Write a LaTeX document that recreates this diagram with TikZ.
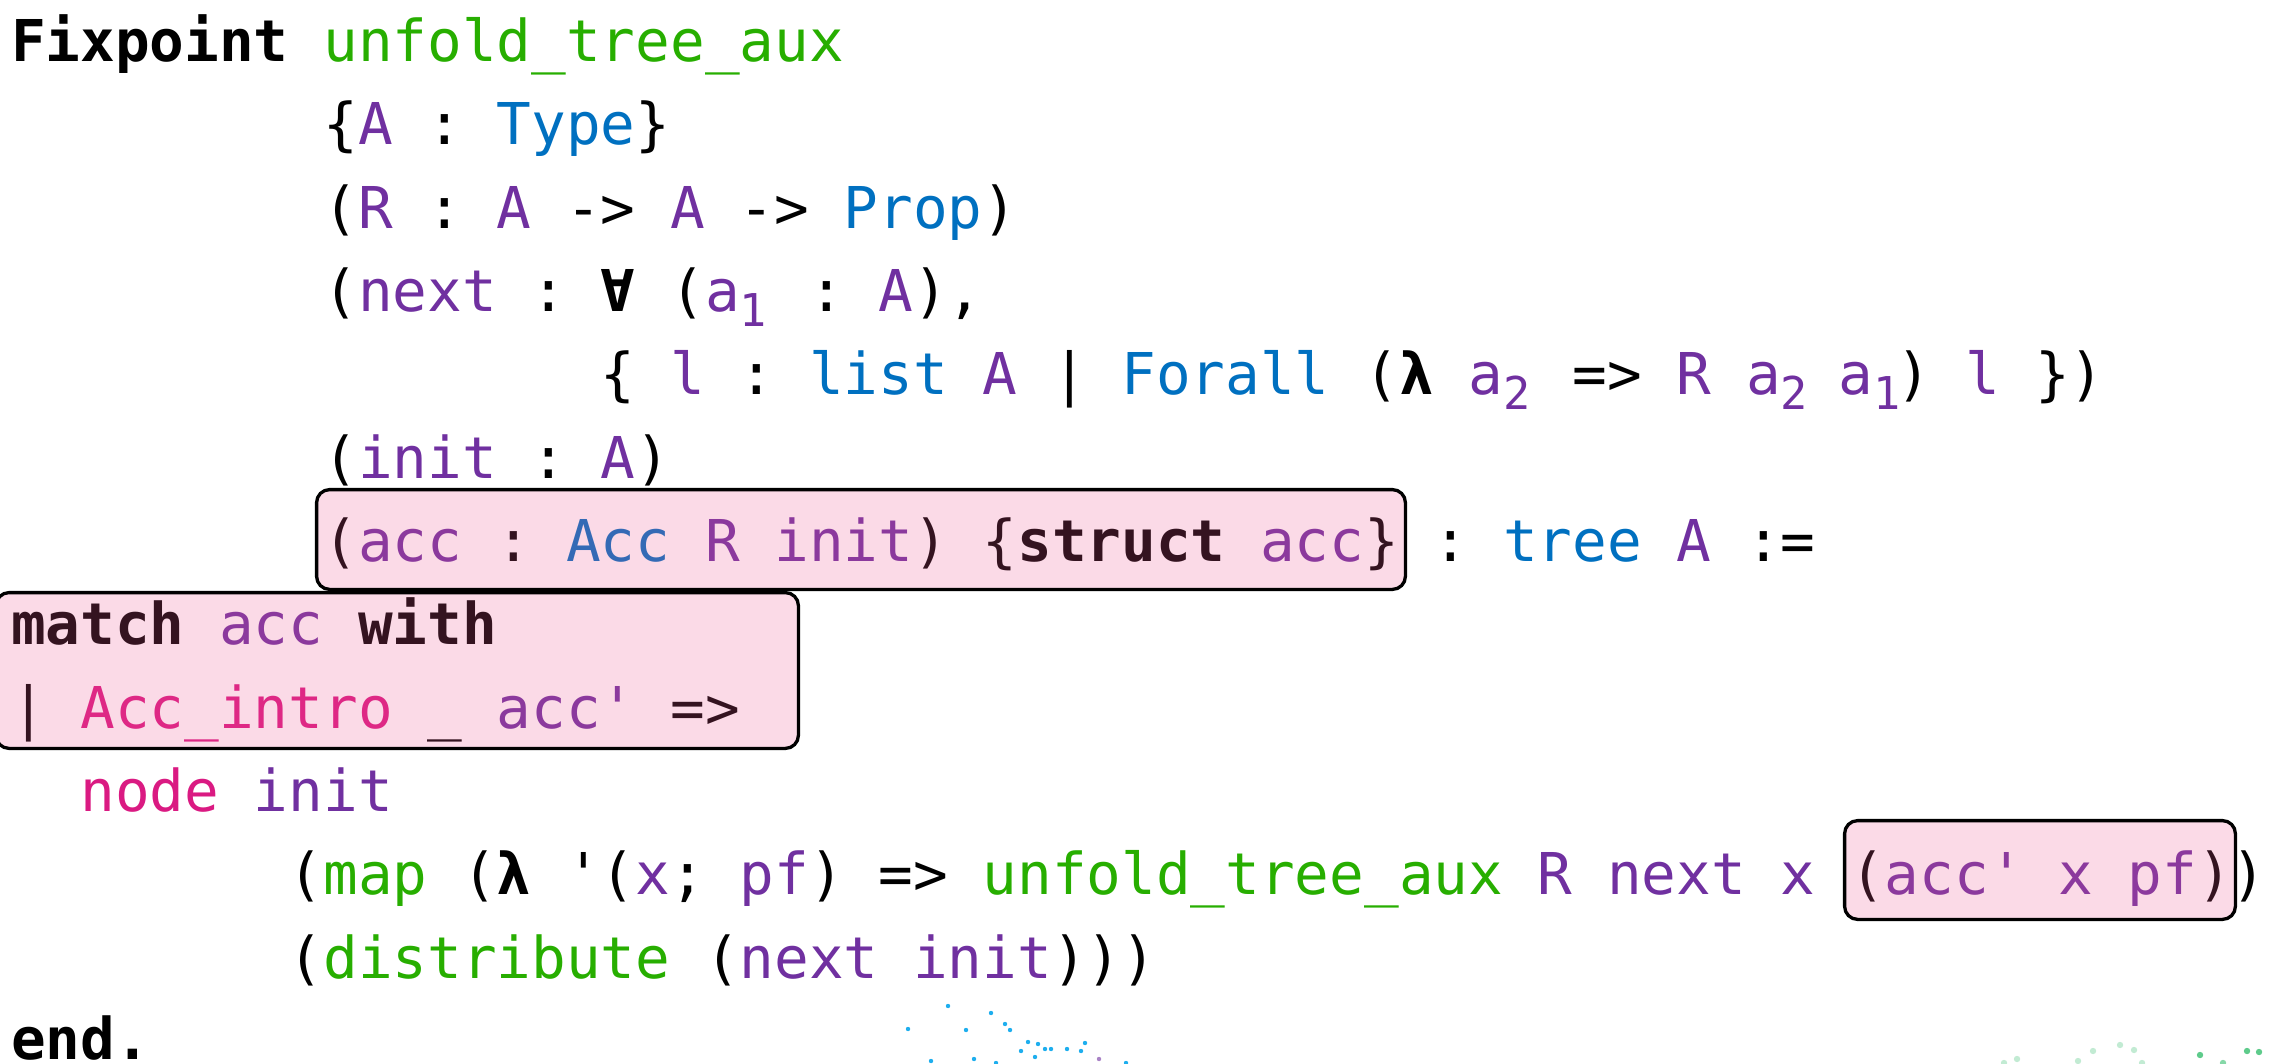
\documentclass[tikz,border=0pt]{standalone}
\usepackage{fontspec}
\setmonofont{DejaVu Sans Mono}
\definecolor{cfun}{HTML}{27AE00}
\definecolor{cvar}{HTML}{7030A0}
\definecolor{ctyp}{HTML}{0070C0}
\definecolor{ccon}{HTML}{DA1A82}
\definecolor{hlpink}{HTML}{EC5993}
\definecolor{dotblue}{HTML}{1EAEEE}
\definecolor{dotgreen}{HTML}{36BE6E}
\newcommand\Cfun[1]{\textcolor{cfun}{#1}}
\newcommand\Cvar[1]{\textcolor{cvar}{#1}}
\newcommand\Ctyp[1]{\textcolor{ctyp}{#1}}
\newcommand\Ccon[1]{\textcolor{ccon}{#1}}
\newcommand\Ckw[1]{\textbf{#1}}
% subscript digit set in its own (optionally narrower) cell, dropped below the baseline
\newcommand\Csub[2][0.60205em]{\makebox[#1][l]{\raisebox{-7.5pt}{\fontsize{22.6}{22.6}\selectfont #2}}}
\tikzset{
  codeline/.style={anchor=base west, inner sep=0pt, outer sep=0pt,
    font=\ttfamily\fontsize{28.82}{40}\selectfont},
  hlbox/.style={draw=black, line width=1.65pt, rounded corners=6.5pt,
    fill=hlpink, fill opacity=0.225},
  bdot/.style={fill=dotblue, draw=none},
  gdot/.style={fill=dotgreen, draw=none},
}
\begin{document}
\begin{tikzpicture}[x=0.5pt, y=-0.5pt]
\useasboundingbox (0,0) rectangle (2290,1064);
% code, one node per line; columns are 34.7 px apart starting at x = 11
\node[codeline] (l1)  at (11,61.7)     {\Ckw{Fixpoint} \Cfun{unfold\_tree\_aux}};
\node[codeline] (l2)  at (323.3,145.0) {\{\Cvar{A} : \Ctyp{Type}\}};
\node[codeline] (l3)  at (323.3,228.3) {(\Cvar{R} : \Cvar{A} -> \Cvar{A} -> \Ctyp{Prop})};
\node[codeline] (l4)  at (323.3,311.6) {(\Cvar{next} : \textbf{∀} (\Cvar{a\Csub{1}} : \Cvar{A}),};
\node[codeline] (l5)  at (600.9,394.9) {\{ \Cvar{l} : \Ctyp{list} \Cvar{A} | \Ctyp{Forall} (\textbf{λ} \Cvar{a\Csub{2}} => \Cvar{R} \Cvar{a\Csub[0.4em]{2}} \Cvar{a\Csub[0.4em]{1}}) \Cvar{l} \})};
\node[codeline] (l6)  at (323.3,478.2) {(\Cvar{init} : \Cvar{A})};
\node[codeline] (l7)  at (323.3,561.5) {(\Cvar{acc} : \Ctyp{Acc} \Cvar{R} \Cvar{init}) \{\Ckw{struct} \Cvar{acc}\} : \Ctyp{tree} \Cvar{A} :=};
\node[codeline] (l8)  at (11,644.8)    {\Ckw{match} \Cvar{acc} \Ckw{with}};
\node[codeline] (l9)  at (11,728.1)    {| \Ccon{Acc\_intro} \_ \Cvar{acc'} =>};
\node[codeline] (l10) at (80.4,811.4)  {\Ccon{node} \Cvar{init}};
\node[codeline] (l11) at (288.6,894.7) {(\Cfun{map} (\textbf{λ} '(\Cvar{x}; \Cvar{pf}) => \Cfun{unfold\_tree\_aux} \Cvar{R} \Cvar{next} \Cvar{x} (\Cvar{acc'} \Cvar{x} \Cvar{pf}))};
\node[codeline] (l12) at (288.6,978.0) {(\Cfun{distribute} (\Cvar{next} \Cvar{init})))};
% last line sits on the bottom edge; its box is given no depth
\node[codeline] (l13) at (11,1059.5)   {\raisebox{0pt}[\height][0pt]{\Ckw{end.}}};
% highlighted regions, drawn over the text as a translucent tint
\draw[hlbox] (316.6,489.6) rectangle (1405.4,589.4);
\draw[hlbox] (-4,592.6) rectangle (798.4,748.4);
\draw[hlbox] (1844.6,820.6) rectangle (2235.4,919.4);
% scattered dots along the lower edge
\foreach \px/\py in {908/1029, 948/1006, 966/1030, 991/1013, 1005/1024, 1010/1030,
  1028/1042, 1038/1044, 1021/1051, 1045/1049, 1051/1049, 1067/1049, 1081/1051,
  1085/1043, 1035/1057, 974/1059, 931/1061, 996/1063, 1126/1063}
  \fill[bdot] (\px,\py) circle (1.1pt);
\fill[fill=cvar, opacity=0.6] (1099,1059) circle (1.1pt);
\foreach \px/\py/\op in {2200/1055/0.8, 2247/1051/0.8, 2259/1052/0.8, 2093/1051/0.3,
  2120/1045/0.3, 2134/1050/0.3, 2017/1059/0.3, 2004/1063/0.3, 2078/1061/0.3,
  2142/1063/0.3, 2223/1063/0.6}
  \fill[gdot, opacity=\op] (\px,\py) circle (1.6pt);
\end{tikzpicture}
\end{document}
